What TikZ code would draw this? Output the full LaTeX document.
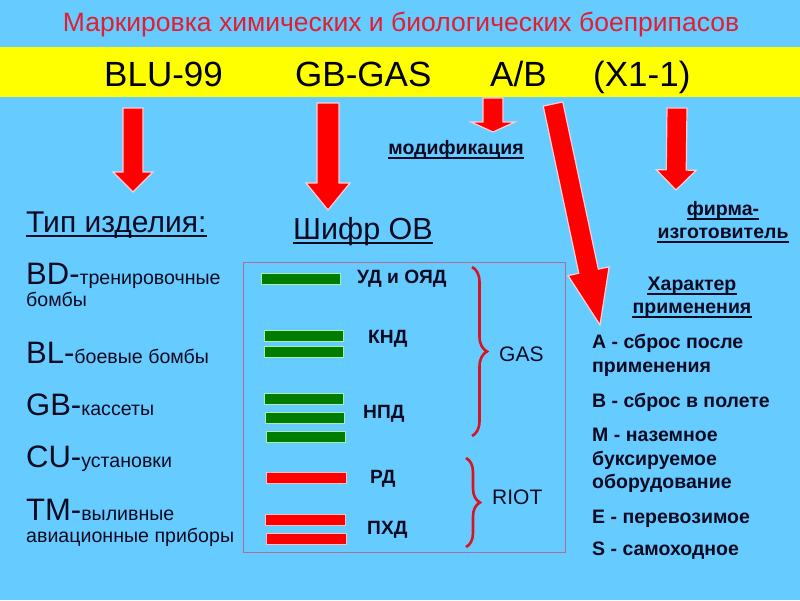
\documentclass[tikz,border=0pt]{standalone}
\usepackage{fontspec}
\setmainfont{Liberation Sans}
\usetikzlibrary{calc,decorations.pathreplacing}
\definecolor{bgblue}{RGB}{102,204,255}
\definecolor{band}{RGB}{255,255,0}
\definecolor{titlered}{RGB}{225,30,50}
\definecolor{ink}{RGB}{10,10,35}
\definecolor{arrred}{RGB}{255,0,0}
\definecolor{arredge}{RGB}{255,205,215}
\definecolor{bargreen}{RGB}{0,125,0}
\definecolor{baredge}{RGB}{170,240,170}
\definecolor{barred}{RGB}{255,0,0}
\definecolor{barredge}{RGB}{255,190,200}
\definecolor{boxc}{RGB}{175,110,150}
\definecolor{bracered}{RGB}{215,20,35}
\newcommand{\blkarrow}[5]{%
  \coordinate (hb) at ($(#2)!#5!(#1)$);
  \filldraw[arrowfill] ($(#1)!#3!90:(#2)$) -- ($(hb)!#3!90:(#2)$) -- ($(hb)!#4!90:(#2)$) -- (#2)
    -- ($(hb)!#4!-90:(#2)$) -- ($(hb)!#3!-90:(#2)$) -- ($(#1)!#3!-90:(#2)$) -- cycle;}
\tikzset{
  arrowfill/.style={fill=arrred, draw=arredge, line width=1.2pt, line join=miter},
  txt/.style={inner sep=0pt, anchor=base west, text=ink},
  ctxt/.style={inner sep=0pt, anchor=base, text=ink},
  gbar/.style={draw=baredge, fill=bargreen, line width=0.8pt, minimum width=79pt, minimum height=11pt, inner sep=0pt},
  rbar/.style={draw=barredge, fill=barred, line width=0.8pt, minimum width=80pt, minimum height=11pt, inner sep=0pt},
  bracestyle/.style={draw=bracered, line width=2.6pt, decorate},
  uline/.style={draw=ink, line width=#1},
  bold/.style={font=\bfseries\fontsize{19.5}{19.5}\selectfont},
  lbl/.style={txt, font=\bfseries\fontsize{19.2}{19.2}\selectfont},
}
\newcommand{\bigsz}{\fontsize{31}{31}\selectfont}
\newcommand{\smlsz}{\fontsize{19.6}{19.6}\selectfont}
\begin{document}
\begin{tikzpicture}[x=1pt,y=-1pt]
\useasboundingbox (0,0) rectangle (800,600);
\fill[bgblue] (0,0) rectangle (800,600);
\fill[band] (0,47) rectangle (800,97);
% title
\node[inner sep=0pt, anchor=base, text=titlered, font=\fontsize{26.5}{26.5}\selectfont] (title) at (401,31) {Маркировка химических и биологических боеприпасов};
% code parts
\node[txt, font=\fontsize{35}{35}\selectfont, text=black] (blu) at (104,86) {BLU-99};
\node[txt, font=\fontsize{35}{35}\selectfont, text=black] (gbgas) at (295,86) {GB-GAS};
\node[txt, font=\fontsize{35}{35}\selectfont, text=black] (ab) at (490,86) {A/B};
\node[txt, font=\fontsize{35}{35}\selectfont, text=black] (x11) at (593,86) {(X1-1)};
% arrows
\coordinate (a1s) at (133,108); \coordinate (a1t) at (133,192);
\coordinate (a2s) at (328,103); \coordinate (a2t) at (328,210);
\coordinate (a3s) at (493,98);  \coordinate (a3t) at (493,132);
\coordinate (a4s) at (677,108); \coordinate (a4t) at (676,190);
\coordinate (a5s) at (553,104); \coordinate (a5t) at (600,325);
\blkarrow{a1s}{a1t}{10pt}{20pt}{20pt}
\blkarrow{a2s}{a2t}{11pt}{22pt}{27pt}
\blkarrow{a3s}{a3t}{10pt}{22pt}{10pt}
\blkarrow{a4s}{a4t}{10pt}{20pt}{20pt}
\blkarrow{a5s}{a5t}{10pt}{21pt}{55pt}
% modification
\node[ctxt, bold] (mod) at (456,154) {модификация};
\draw[uline=1.2pt] ([yshift=-4pt]mod.base west) -- ([yshift=-4pt]mod.base east);
% left column
\node[txt, font=\fontsize{30}{30}\selectfont] (tip) at (26,232) {Тип изделия:};
\draw[uline=1.7pt] ([yshift=-4pt]tip.base west) -- ([yshift=-4pt]tip.base east);
\node[txt] (bd) at (26,284) {\bigsz BD-\smlsz тренировочные};
\node[txt, font=\smlsz] (bd2) at (26,306) {бомбы};
\node[txt] (bl) at (26,363) {\bigsz BL-\smlsz боевые бомбы};
\node[txt] (gb) at (26,415) {\bigsz GB-\smlsz кассеты};
\node[txt] (cu) at (26,467) {\bigsz CU-\smlsz установки};
\node[txt] (tm) at (26,520) {\bigsz TM-\smlsz выливные};
\node[txt, font=\smlsz] (tm2) at (26,542) {авиационные приборы};
% OV code
\node[txt, font=\fontsize{30.5}{30.5}\selectfont] (shifr) at (293,239) {Шифр ОВ};
\draw[uline=1.7pt] ([yshift=-4pt]shifr.base west) -- ([yshift=-4pt]shifr.base east);
\draw[boxc, line width=0.9pt] (243,262) rectangle (565,552);
\node[gbar] (g1) at (300.5,279) {};
\node[gbar] (g2) at (303.5,335.5) {};
\node[gbar] (g3) at (303.5,352) {};
\node[gbar] (g4) at (303.5,398.5) {};
\node[gbar] (g5) at (305,418) {};
\node[gbar] (g6) at (306,436.5) {};
\node[rbar] (r1) at (306,477.5) {};
\node[rbar] (r2) at (305,519.5) {};
\node[rbar] (r3) at (306,538.5) {};
\node[lbl] (ud) at (357,283) {УД и ОЯД};
\node[lbl] (knd) at (368,343) {КНД};
\node[lbl] (npd) at (363,418) {НПД};
\node[lbl] (rd) at (370,483) {РД};
\node[lbl] (phd) at (367,534) {ПХД};
\draw[bracestyle, decoration={brace, amplitude=15pt}] (472,267) -- (472,436);
\draw[bracestyle, decoration={brace, amplitude=14pt}] (466,458) -- (466,547);
\node[txt, font=\fontsize{21}{21}\selectfont] (gas) at (499,361) {GAS};
\node[txt, font=\fontsize{21}{21}\selectfont] (riot) at (492,504) {RIOT};
% right column
\node[ctxt, bold] (firma) at (723,215) {фирма-};
\draw[uline=1.2pt] ([yshift=-4pt]firma.base west) -- ([yshift=-4pt]firma.base east);
\node[ctxt, bold] (izg) at (723,238) {изготовитель};
\draw[uline=1.2pt] ([yshift=-4pt]izg.base west) -- ([yshift=-4pt]izg.base east);
\node[ctxt, bold] (har) at (692,290) {Характер};
\draw[uline=1.2pt] ([yshift=-4pt]har.base west) -- ([yshift=-4pt]har.base east);
\node[ctxt, bold] (prim) at (692,313) {применения};
\draw[uline=1.2pt] ([yshift=-4pt]prim.base west) -- ([yshift=-4pt]prim.base east);
\node[txt, bold] (ia) at (592,348) {А - сброс после};
\node[txt, bold] (ia2) at (592,372) {применения};
\node[txt, bold] (ib) at (592,407) {В - сброс в полете};
\node[txt, bold] (im) at (592,441) {М - наземное};
\node[txt, bold] (im2) at (592,465) {буксируемое};
\node[txt, bold] (im3) at (592,488) {оборудование};
\node[txt, bold] (ie) at (592,523) {Е - перевозимое};
\node[txt, bold] (is) at (592,555) {S - самоходное};
\end{tikzpicture}
\end{document}
